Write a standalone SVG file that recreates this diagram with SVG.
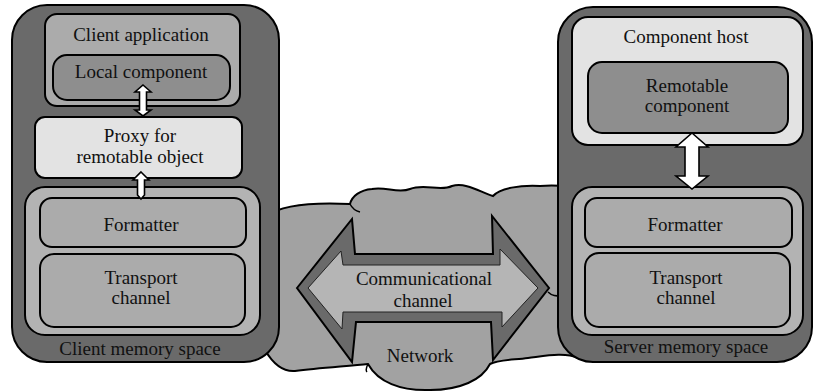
<svg xmlns="http://www.w3.org/2000/svg" width="814" height="392" viewBox="0 0 814 392">
<style>
text{font-family:"Liberation Serif","DejaVu Serif","Times New Roman",serif;font-size:19px;fill:#111;text-anchor:middle}
.b{stroke:#000;stroke-width:2}
.outer{fill:#6a6a6a}
.mid{fill:#ababab}
.dk{fill:#8e8e8e}
.lt{fill:#e3e3e3}
.cont{fill:#b3b3b3}
.arr{fill:#fff;stroke:#000;stroke-width:1.6;stroke-linejoin:miter}
</style>
<rect width="814" height="392" fill="#fff"/>
<g id="network">
<path class="b" fill="#a2a2a2" d="M266,216 C280,206 310,202 350,204 C352,196 360,190 372,189 C385,186 398,194 410,189 C425,183 440,192 452,186 C466,182 480,192 493,196 C500,188 520,185 540,186 C555,185 570,186 578,190 L578,358 C565,352 545,356 528,358 C512,360 498,360 490,364 C482,380 460,390 430,390 C400,391 378,382 368,364 C350,366 320,368 295,371 C282,372 272,362 265,350 Z"/>
<path fill="none" stroke="#000" stroke-width="1.5" d="M350,204 C352,208 356,211 360,212 M368,364 C366,368 366,371 367,372 M548,292 C552,296 556,296 562,296"/>
<text x="420" y="362" font-family="Liberation Serif, serif">Network</text>
</g>
<g id="channel">
<polygon class="b" fill="#6a6a6a" stroke-linejoin="miter" points="297,288 352,219 355,254 493,254 492,216 549,288 493,360 491,322 356,322 352,362"/>
<polygon fill="#b5b5b5" stroke="#222" stroke-width="1" points="308,288 341,251 343,265 500,265 500,249 538,288 502,327 502,312 343,312 342,329"/>
<text x="424" y="285">Communicational</text>
<text x="423" y="307">channel</text>
</g>
<g id="client-space">
<rect class="b outer" x="12" y="5" width="267" height="357" rx="35"/>
<text x="140" y="355">Client memory space</text>
</g>
<g id="client-application">
<rect class="b mid" x="45" y="14" width="195" height="92" rx="12"/>
<text x="141" y="41">Client application</text>
</g>
<g id="local-component">
<rect class="b dk" x="53" y="55" width="177" height="45" rx="14"/>
<text x="141" y="78">Local component</text>
</g>
<g id="proxy">
<rect class="b lt" x="35" y="117" width="207" height="61" rx="10"/>
<text x="140" y="142">Proxy for</text>
<text x="140" y="163">remotable object</text>
</g>
<g id="client-channel-stack">
<rect class="b cont" x="25" y="187" width="235" height="148" rx="20"/>
</g>
<g id="client-formatter">
<rect class="b mid" x="40" y="198" width="206" height="49" rx="12"/>
<text x="141" y="231">Formatter</text>
</g>
<g id="client-transport">
<rect class="b mid" x="40" y="254" width="205" height="73" rx="14"/>
<text x="141" y="284">Transport</text>
<text x="141" y="304">channel</text>
</g>
<g id="server-space">
<rect class="b outer" x="558" y="7" width="254" height="355" rx="35"/>
<text x="686" y="353">Server memory space</text>
</g>
<g id="component-host">
<rect class="b lt" x="572" y="17" width="231" height="128" rx="16"/>
<text x="686" y="43">Component host</text>
</g>
<g id="remotable-component">
<rect class="b dk" x="588" y="62" width="200" height="71" rx="14"/>
<text x="687" y="92">Remotable</text>
<text x="687" y="112">component</text>
</g>
<g id="server-channel-stack">
<rect class="b cont" x="572" y="187" width="231" height="148" rx="20"/>
</g>
<g id="server-formatter">
<rect class="b mid" x="585" y="198" width="207" height="49" rx="12"/>
<text x="685" y="231">Formatter</text>
</g>
<g id="server-transport">
<rect class="b mid" x="585" y="253" width="205" height="74" rx="14"/>
<text x="686" y="284">Transport</text>
<text x="686" y="304">channel</text>
</g>
<g id="connectors">
<polygon class="arr" points="143,85 151,92 146.5,92 146.5,110 151,110 143,116 135,110 139.5,110 139.5,92 135,92"/>
<polygon class="arr" points="141,172 149,180 144.5,180 144.5,195 141,199 137.5,195 137.5,180 133,180"/>
<polygon class="arr" points="692,133 708,147 699,147 699,176 708,176 692,189 676,176 685,176 685,147 676,147"/>
</g>
</svg>
